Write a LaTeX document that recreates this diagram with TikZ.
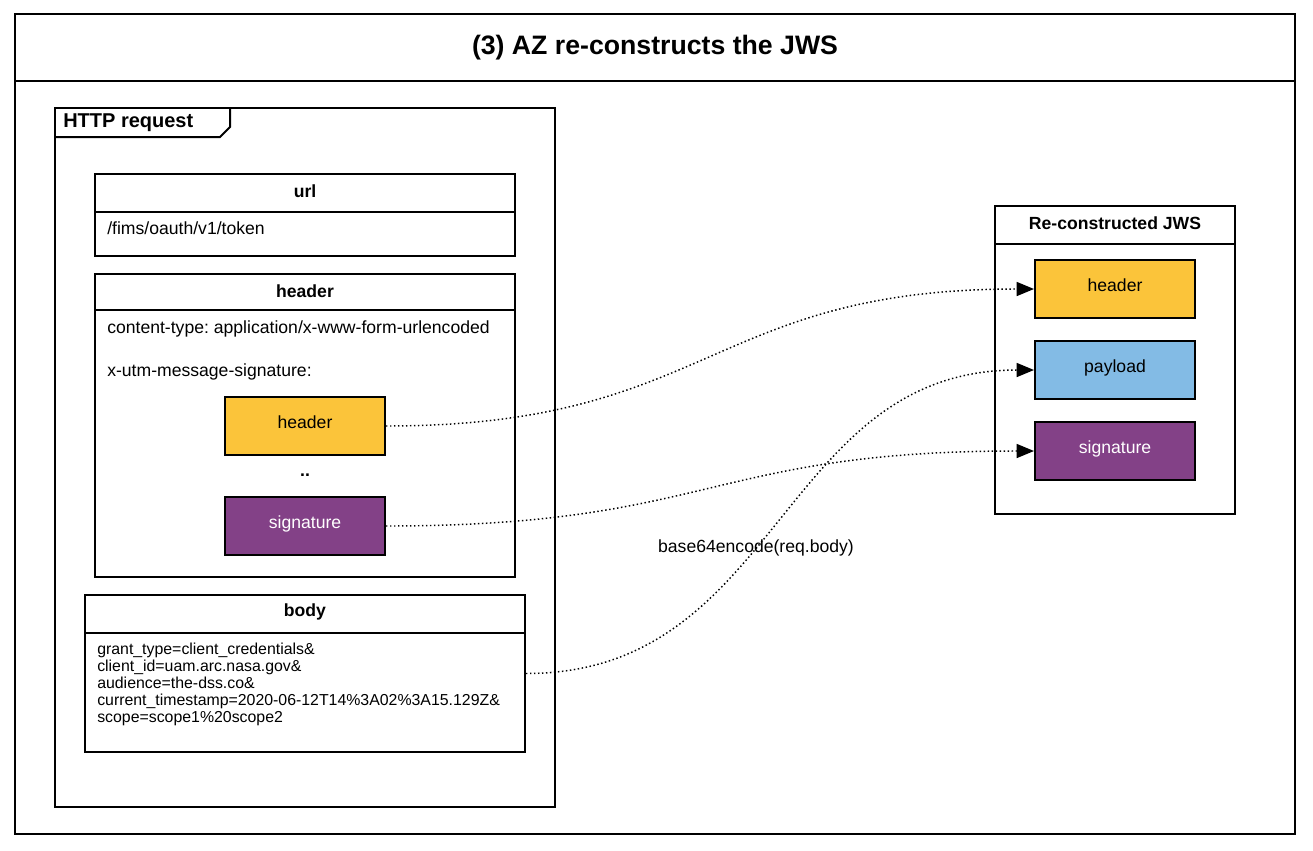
\documentclass[tikz,border=0pt]{standalone}
\usepackage{fontspec}
\setmainfont{Liberation Sans}
\usetikzlibrary{arrows.meta}
\definecolor{jwsyellow}{HTML}{FBC43A}
\definecolor{jwsblue}{HTML}{83BBE5}
\definecolor{jwspurple}{HTML}{834187}
\frenchspacing
\begin{document}
\begin{tikzpicture}[x=0.75pt,y=-0.75pt,
  frame/.style={draw=black, line width=1.5pt, inner sep=0pt},
  part/.style={draw=black, line width=1.5pt, minimum width=120pt, minimum height=43.5pt, inner sep=0pt, text height=9pt, text depth=5.6pt, font=\fontsize{13.2}{15}\selectfont},
  ttl/.style={font=\bfseries\fontsize{13.2}{15}\selectfont},
  txt/.style={font=\fontsize{13.2}{15}\selectfont, anchor=west, inner sep=0pt},
  rule/.style={line width=1.5pt},
  conn/.style={line width=1.1pt, dash pattern=on 1.1pt off 1.9pt, -{Triangle[length=13pt,width=10.5pt]}},
]
\useasboundingbox (0,0) rectangle (1313,850);
\fill[white] (0,0) rectangle (1313,850);
% outer frame
\node[frame, minimum width=960pt, minimum height=615pt] (outer) at (655,424) {};
\draw[rule] (15,81) -- (1295,81);
\node[font=\bfseries\fontsize{20}{24}\selectfont] (title) at (655,47.5) {(3) AZ re-constructs the JWS};
% HTTP request frame
\node[frame, minimum width=375pt, minimum height=524.25pt] (http) at (305,457.5) {};
\draw[rule] (55,137) -- (220,137) -- (230,127) -- (230,108);
\node[font=\bfseries\fontsize{15}{18}\selectfont, anchor=west, inner sep=0pt] (httpl) at (63,123) {HTTP request};
% url
\node[frame, minimum width=315pt, minimum height=61.5pt] (url) at (305,215) {};
\draw[rule] (95,212) -- (515,212);
\node[ttl] (urlt) at (305,191.5) {url};
\node[txt] (urlv) at (107,228.5) {/fims/oauth/v1/token};
% header
\node[frame, minimum width=315pt, minimum height=227.25pt] (hdr) at (305,425.5) {};
\draw[rule] (95,310) -- (515,310);
\node[ttl] (hdrt) at (305,291) {header};
\node[txt] (ctype) at (107,329) {content-type: application/x-www-form-urlencoded};
\node[txt] (xutm) at (107,372) {x-utm-message-signature:};
\node[part, fill=jwsyellow] (h1) at (305,426) {header};
\node[font=\bfseries\fontsize{13.2}{15}\selectfont] (dots) at (305,475) {..};
\node[part, fill=jwspurple, text=white] (s1) at (305,526) {signature};
% body
\node[frame, minimum width=330pt, minimum height=117.75pt] (body) at (305,673.5) {};
\draw[rule] (85,633) -- (525,633);
\node[ttl] (bodyt) at (305,611.5) {body};
\node[anchor=north west, inner sep=0pt, align=left, font=\fontsize{11.9}{12.75}\selectfont] (bodyv) at (97,643)
  {grant\_type=client\_credentials\&\\client\_id=uam.arc.nasa.gov\&\\audience=the-dss.co\&\\current\_timestamp=2020-06-12T14\%3A02\%3A15.129Z\&\\scope=scope1\%20scope2};
% re-constructed JWS
\node[frame, minimum width=180pt, minimum height=231pt] (jws) at (1115,360) {};
\draw[rule] (995,244) -- (1235,244);
\node[ttl] (jwst) at (1115,223) {Re-constructed JWS};
\node[part, fill=jwsyellow] (jh) at (1115,289) {header};
\node[part, fill=jwsblue] (jp) at (1115,370) {payload};
\node[part, fill=jwspurple, text=white] (js) at (1115,451) {signature};
% connectors
\draw[conn] (h1.east) .. controls +(325,0) and +(-325,0) .. (jh.west);
\draw[conn] (s1.east) .. controls +(325,0) and +(-325,0) .. (js.west);
\draw[conn] (body.east) .. controls +(255,0) and +(-255,0) .. (jp.west);
\node[font=\fontsize{13.2}{15}\selectfont] (lbl) at (756,548) {base64encode(req.body)};
\end{tikzpicture}
\end{document}
